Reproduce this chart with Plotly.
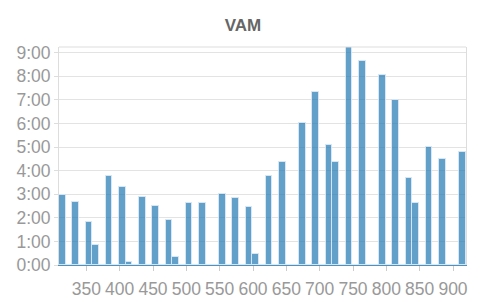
import plotly.graph_objects as go

title_text = "VAM"
x_centers = [314, 324, 334, 344, 354, 364, 374, 384, 394, 404,
             414, 424, 434, 444, 454, 464, 474, 484, 494, 504,
             514, 524, 534, 544, 554, 564, 574, 584, 594, 604,
             614, 624, 634, 644, 654, 664, 674, 684, 694, 704,
             714, 724, 734, 744, 754, 764, 774, 784, 794, 804,
             814, 824, 834, 844, 854, 864, 874, 884, 894, 904, 914]
hours = [2.96, 0, 2.69, 0, 1.83, 0.85, 0, 3.77, 0, 3.30,
         0.11, 0, 2.89, 0, 2.51, 0, 1.90, 0.32, 0, 2.62,
         0, 2.62, 0, 0, 3.03, 0, 2.82, 0, 2.44, 0.45,
         0, 3.77, 0, 4.35, 0, 0, 6.00, 0, 7.32, 0,
         5.07, 4.35, 0, 9.24, 0, 8.65, 0, 0, 8.06, 0,
         6.98, 0, 3.68, 2.62, 0, 5.01, 0, 4.49, 0, 0, 4.81]
y_tickvals = [0, 1, 2, 3, 4, 5, 6, 7, 8, 9]
y_ticktext = ["0:00", "1:00", "2:00", "3:00", "4:00", "5:00", "6:00", "7:00", "8:00", "9:00"]
x_tickvals = [350, 400, 450, 500, 550, 600, 650, 700, 750, 800, 850, 900]

FONT = "Liberation Sans, Arial, sans-serif"
bar_fill = "rgba(31,119,180,0.7)"
fig = go.Figure()
fig.add_trace(go.Bar(
    x=x_centers, y=hours, width=10,
    marker=dict(color=bar_fill, line=dict(color="rgba(220,232,244,0.9)", width=1)),
))

fig.update_layout(
    width=486, height=302,
    margin=dict(l=59, r=20, t=47, b=37),
    paper_bgcolor="white", plot_bgcolor="white",
    showlegend=False, bargap=0,
    title=dict(text="<b>" + title_text + "</b>", x=0.5, xanchor="center", y=0.918, yanchor="middle",
               font=dict(family=FONT, size=17, color="#666666")),
    font=dict(family=FONT, size=17.5, color="#999999"),
    shapes=[dict(type="line", xref="paper", yref="paper", x0=0, x1=1, y0=1, y1=1,
                 line=dict(color="#dddddd", width=1))],
)
fig.update_xaxes(range=[309, 919.5], tickvals=x_tickvals, ticks="outside", ticklen=5,
                 tickcolor="#cccccc", showgrid=False, zeroline=False,
                 showline=True, linecolor="rgba(31,119,180,0.8)", linewidth=1,
                 ticklabelstandoff=3, automargin=False,
                 tickfont=dict(family=FONT, size=17.5, color="#999999"))
fig.update_yaxes(range=[0, 9.24], tickvals=y_tickvals, ticktext=y_ticktext,
                 ticks="outside", ticklen=4, tickcolor="#dddddd", automargin=False,
                 showgrid=True, gridcolor="#e3e3e3", gridwidth=1, zeroline=False,
                 showline=True, mirror=True, linecolor="#dddddd", linewidth=1,
                 tickfont=dict(family=FONT, size=17.5, color="#999999"))

fig.write_html("out.html")
